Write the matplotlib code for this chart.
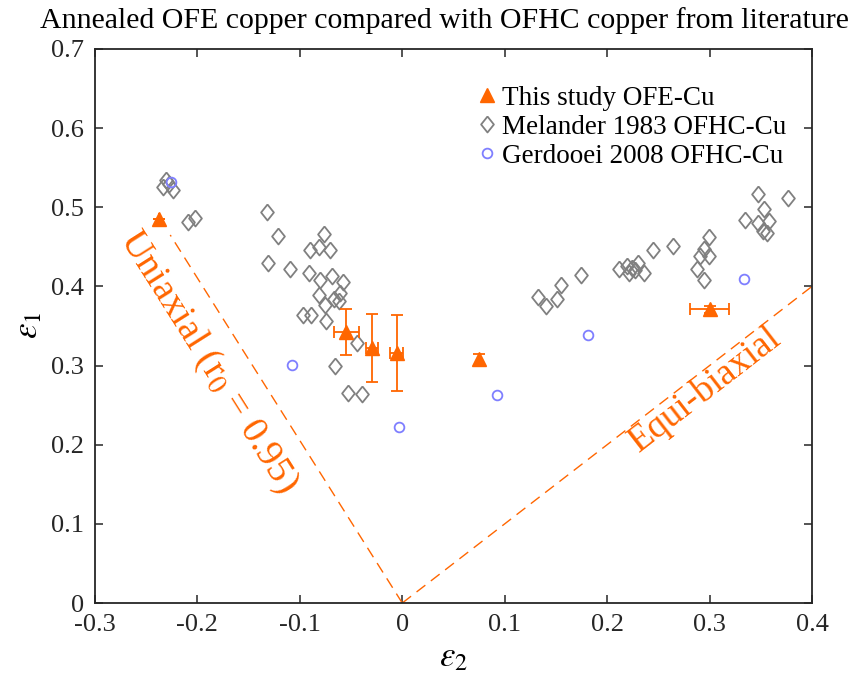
import numpy as np
import matplotlib
matplotlib.use("Agg")
import matplotlib.pyplot as plt
from matplotlib.ticker import FixedLocator, FixedFormatter

plt.rcParams['font.family'] = ['Liberation Serif', 'DejaVu Serif']
plt.rcParams['mathtext.fontset'] = 'stix'

orange = '#ff6600'

# this study (OFE-Cu), with error bars
study_e2 = [-0.2375, -0.0547, -0.0297, -0.0054, 0.0752, 0.3001]
study_e1 = [0.485, 0.342, 0.322, 0.316, 0.308, 0.371]
study_e1_err = [0.0, 0.029, 0.043, 0.048, 0.007, 0.004]
study_e2_err = [0.0, 0.0124, 0.006, 0.0066, 0.0, 0.0187]

# Melander 1983 OFHC-Cu
mel_e2 = [-0.231, -0.234, -0.224, -0.228, -0.2095, -0.202,
          -0.1318, -0.121, -0.1314, -0.110,
          -0.0767, -0.0809, -0.0897, -0.0702,
          -0.0915, -0.0803, -0.0686, -0.0579,
          -0.0809, -0.0608, -0.0664, -0.0615,
          -0.0752, -0.0973, -0.0895, -0.0744,
          -0.0442, -0.0657, -0.053, -0.0391,
          0.1328, 0.1403, 0.1507, 0.155, 0.1745,
          0.2116, 0.219, 0.221, 0.2272, 0.2304, 0.236, 0.224,
          0.2444, 0.264,
          0.2874, 0.2945, 0.291, 0.2945, 0.2997, 0.2997,
          0.3476, 0.3762, 0.3343, 0.3535, 0.3476, 0.3583, 0.3525, 0.3558]
mel_e1 = [0.534, 0.525, 0.522, 0.530, 0.481, 0.486,
          0.494, 0.464, 0.430, 0.422,
          0.466, 0.450, 0.446, 0.446,
          0.417, 0.408, 0.413, 0.406,
          0.389, 0.392, 0.3835, 0.382,
          0.376, 0.364, 0.364, 0.3565,
          0.328, 0.300, 0.265, 0.2636,
          0.3866, 0.3753, 0.3845, 0.4014, 0.4148,
          0.4217, 0.4262, 0.4166, 0.4208, 0.4292, 0.4173, 0.423,
          0.4456, 0.451,
          0.4216, 0.4077, 0.4388, 0.4469, 0.4384, 0.4628,
          0.5168, 0.5117, 0.4839, 0.4974, 0.4805, 0.4826, 0.4704, 0.467]

# Gerdooei 2008 OFHC-Cu
ger_e2 = [-0.2258, -0.1074, -0.0028, 0.0925, 0.1813, 0.3336]
ger_e1 = [0.5316, 0.3007, 0.2228, 0.2628, 0.3382, 0.409]

# reference strain paths
r0 = 0.95
uni_e1 = [0.0, 0.465]
biax_e2 = [0.0, 0.4]

xticks = [-0.3, -0.2, -0.1, 0, 0.1, 0.2, 0.3, 0.4]
xlabels = ['-0.3', '-0.2', '-0.1', '0', '0.1', '0.2', '0.3', '0.4']
yticks = [0, 0.1, 0.2, 0.3, 0.4, 0.5, 0.6, 0.7]
ylabels = ['0', '0.1', '0.2', '0.3', '0.4', '0.5', '0.6', '0.7']

# matlab-ish diamond, a bit taller than wide
diamond = [(0, 1), (0.8, 0), (0, -1), (-0.8, 0), (0, 1)]

fig = plt.figure(figsize=(8.66, 6.89), dpi=100)
ax = fig.add_axes([0.1097, 0.1248, 0.8279, 0.8041])

uni_e2 = [-e * r0 / (1 + r0) for e in uni_e1]
ax.plot(uni_e2, uni_e1, '--', color=orange, lw=1.0, dashes=(8, 5))
ax.plot(biax_e2, biax_e2, '--', color=orange, lw=1.0, dashes=(8, 5))

ax.plot(mel_e2, mel_e1, marker=diamond, mfc='none', mec='#808080', ms=11.5, mew=1.3,
        ls='none', label='Melander 1983 OFHC-Cu')
ax.plot(ger_e2, ger_e1, 'o', mfc='none', mec='#7f7fff', ms=7, mew=1.3,
        ls='none', label='Gerdooei 2008 OFHC-Cu')
ax.errorbar(study_e2, study_e1, yerr=study_e1_err, xerr=study_e2_err, fmt='none',
            ecolor=orange, elinewidth=1.3, capsize=4.5, capthick=1.3)
ax.plot(study_e2, study_e1, '^', color=orange, ms=9.5, ls='none',
        label='This study OFE-Cu')

ax.text(-0.19, 0.305, 'Uniaxial (r$_0$ = 0.95)', color=orange, fontsize=27.5,
        rotation=-57.7, ha='center', va='center', rotation_mode='anchor')
ax.text(0.296, 0.27, 'Equi-biaxial', color=orange, fontsize=26.5,
        rotation=37.7, ha='center', va='center', rotation_mode='anchor')

ax.set_xlim(-0.3, 0.4)
ax.set_ylim(0, 0.7)
ax.xaxis.set_major_locator(FixedLocator(xticks))
ax.xaxis.set_major_formatter(FixedFormatter(xlabels))
ax.yaxis.set_major_locator(FixedLocator(yticks))
ax.yaxis.set_major_formatter(FixedFormatter(ylabels))
ax.tick_params(direction='in', length=6, width=1.1, top=True, right=True,
               labelsize=19, colors='#262626', pad=8)
for s in ax.spines.values():
    s.set_linewidth(1.3)
    s.set_color('#262626')

ax.set_xlabel(r'$\varepsilon_2$', fontsize=25, labelpad=4)
ax.set_ylabel(r'$\varepsilon_1$', fontsize=25, labelpad=4)
ax.set_title('Annealed OFE copper compared with OFHC copper from literature',
             fontsize=21.5, pad=15, x=0.488)

handles, labels = ax.get_legend_handles_labels()
order = [labels.index('This study OFE-Cu'), labels.index('Melander 1983 OFHC-Cu'),
         labels.index('Gerdooei 2008 OFHC-Cu')]
ax.legend([handles[i] for i in order], [labels[i] for i in order],
          loc='upper right', bbox_to_anchor=(0.99, 0.968), frameon=False,
          fontsize=19.5, handlelength=0.8, handletextpad=0.15, labelspacing=0.15,
          borderaxespad=0.3)

fig.savefig('out.png', dpi=100)
